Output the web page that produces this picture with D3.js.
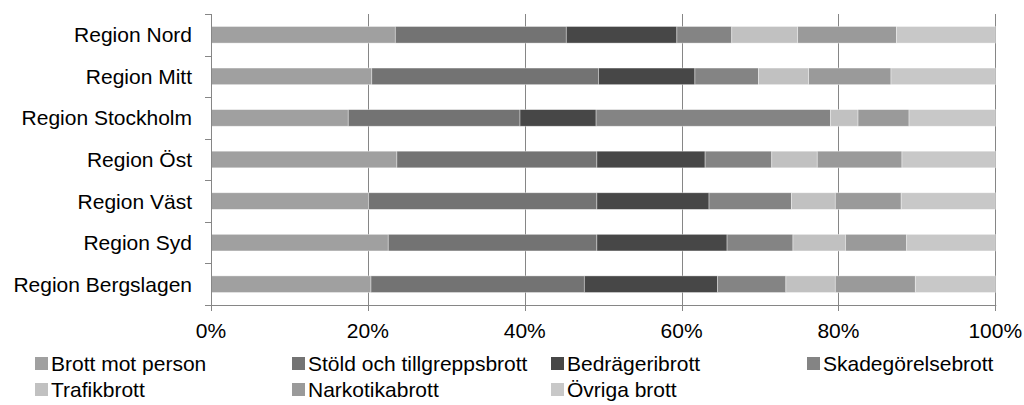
<!DOCTYPE html>
<html>
<head>
<meta charset="utf-8">
<script src="https://cdn.jsdelivr.net/npm/d3@7"></script>
<style>
	body { margin: 0; background: #fff; }
	svg text { font-family: "Liberation Sans", Arial, sans-serif; fill: #000; }
</style>
</head>
<body>
<div id="chart"></div>
<script>
	// regions, top to bottom
	var regions = ['Region Nord', 'Region Mitt', 'Region Stockholm', 'Region Öst', 'Region Väst', 'Region Syd', 'Region Bergslagen'];
	var series = ['Brott mot person', 'Stöld och tillgreppsbrott', 'Bedrägeribrott', 'Skadegörelsebrott', 'Trafikbrott', 'Narkotikabrott', 'Övriga brott'];
	var colors = ['#a0a0a0', '#737373', '#474747', '#848484', '#c1c1c1', '#9a9a9a', '#c8c8c8'];

	// share per region (%), one array per series, same order as regions
	var brottMotPerson = [23.5, 20.5, 17.5, 23.7, 20.1, 22.6, 20.4];
	var stold          = [21.8, 28.9, 21.9, 25.5, 29.1, 26.6, 27.2];
	var bedrageri      = [14.1, 12.3,  9.7, 13.8, 14.3, 16.6, 17.0];
	var skadegorelse   = [ 7.0,  8.1, 29.9,  8.5, 10.5,  8.4,  8.7];
	var trafik         = [ 8.4,  6.4,  3.5,  5.8,  5.6,  6.7,  6.3];
	var narkotika      = [12.6, 10.5,  6.5, 10.8,  8.4,  7.8, 10.2];
	var ovriga         = [12.6, 13.3, 11.0, 11.9, 12.0, 11.3, 10.2];
	var values = [brottMotPerson, stold, bedrageri, skadegorelse, trafik, narkotika, ovriga];

	var xTicks = [0, 0.2, 0.4, 0.6, 0.8, 1];

	var width = 1024, height = 405;
	var plotLeft = 211, plotRight = 995.3, plotTop = 14, plotBottom = 305;

	var svg = d3.select('#chart').append('svg')
		.attr('width', width)
		.attr('height', height);

	var x = d3.scaleLinear().domain([0, 1]).range([plotLeft, plotRight]);
	var y = d3.scaleBand().domain(regions).range([plotTop, plotBottom]).paddingInner(0.6).paddingOuter(0.3);
	var yEdge = d3.scaleLinear().domain([0, regions.length]).range([plotTop, plotBottom]);

	// build rows and normalise to 100%
	var rows = regions.map(function(r, i) {
		var row = { region: r };
		var sum = 0;
		series.forEach(function(s, j) { sum += values[j][i]; });
		series.forEach(function(s, j) { row[s] = values[j][i] / sum; });
		return row;
	});
	var stack = d3.stack().keys(series)(rows);

	// gridlines
	svg.append('g').selectAll('line')
		.data(xTicks.slice(1))
		.enter().append('line')
		.attr('x1', function(d) { return Math.round(x(d)) + 0.5; })
		.attr('x2', function(d) { return Math.round(x(d)) + 0.5; })
		.attr('y1', plotTop)
		.attr('y2', plotBottom)
		.style('stroke', '#868686')
		.style('stroke-width', 1);

	// bars
	var layer = svg.append('g').selectAll('g')
		.data(stack)
		.enter().append('g')
		.style('fill', function(d, i) { return colors[i]; });

	layer.selectAll('rect')
		.data(function(d) { return d; })
		.enter().append('rect')
		.attr('x', function(d) { return x(d[0]); })
		.attr('width', function(d) { return x(d[1]) - x(d[0]); })
		.attr('y', function(d) { return y(d.data.region); })
		.attr('height', y.bandwidth())
		.style('stroke', '#ffffff')
		.style('stroke-opacity', 0.5)
		.style('stroke-width', 0.75);

	// left axis with ticks between categories
	var axisG = svg.append('g');
	axisG.append('line')
		.attr('x1', plotLeft + 0.5).attr('x2', plotLeft + 0.5)
		.attr('y1', plotTop).attr('y2', plotBottom)
		.style('stroke', '#868686');
	axisG.selectAll('.ytick')
		.data(d3.range(regions.length + 1))
		.enter().append('line')
		.attr('class', 'ytick')
		.attr('x1', plotLeft - 6).attr('x2', plotLeft)
		.attr('y1', function(d) { return Math.round(yEdge(d)) + 0.5; })
		.attr('y2', function(d) { return Math.round(yEdge(d)) + 0.5; })
		.style('stroke', '#868686');

	// bottom axis
	axisG.append('line')
		.attr('x1', plotLeft).attr('x2', plotRight + 1)
		.attr('y1', plotBottom + 0.5).attr('y2', plotBottom + 0.5)
		.style('stroke', '#868686');
	axisG.selectAll('.xtick')
		.data(xTicks)
		.enter().append('line')
		.attr('class', 'xtick')
		.attr('x1', function(d) { return Math.round(x(d)) + 0.5; })
		.attr('x2', function(d) { return Math.round(x(d)) + 0.5; })
		.attr('y1', plotBottom).attr('y2', plotBottom + 6)
		.style('stroke', '#868686');

	// labels
	svg.append('g').selectAll('text')
		.data(regions)
		.enter().append('text')
		.attr('x', 192)
		.attr('y', function(d) { return y(d) + y.bandwidth() / 2; })
		.attr('dy', '0.36em')
		.attr('text-anchor', 'end')
		.style('font-size', '21px')
		.text(function(d) { return d; });

	svg.append('g').selectAll('text')
		.data(xTicks)
		.enter().append('text')
		.attr('x', function(d) { return x(d); })
		.attr('y', 338)
		.attr('text-anchor', 'middle')
		.style('font-size', '21px')
		.text(d3.format('.0%'));

	// legend, 4 columns x 2 rows
	var legendX = [35, 292, 551, 807];
	var legendY = [371, 397];
	var item = svg.append('g').selectAll('g')
		.data(series)
		.enter().append('g')
		.attr('transform', function(d, i) { return 'translate(' + legendX[i % 4] + ',' + legendY[Math.floor(i / 4)] + ')'; });
	item.append('rect')
		.attr('x', 0).attr('y', -14)
		.attr('width', 13).attr('height', 13)
		.style('fill', function(d, i) { return colors[i]; });
	item.append('text')
		.attr('x', 16)
		.attr('y', 0)
		.style('font-size', '21px')
		.text(function(d) { return d; });
</script>
</body>
</html>
